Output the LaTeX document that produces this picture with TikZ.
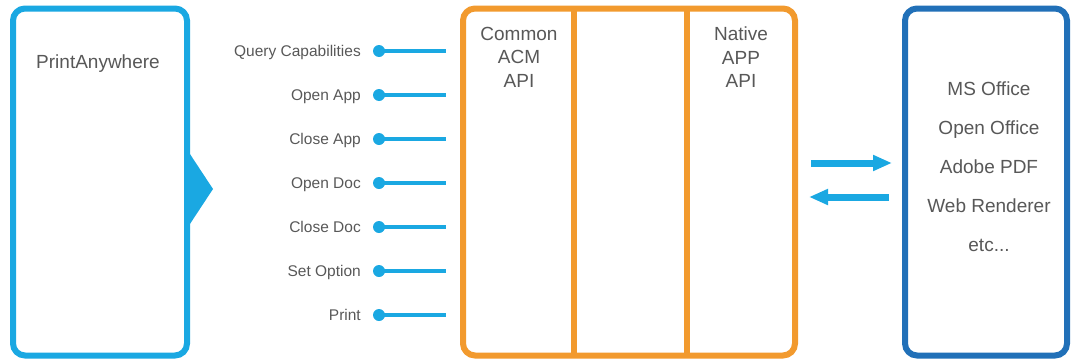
\documentclass[tikz,border=0pt]{standalone}
\usepackage{fontspec}
\setmainfont{Liberation Sans}
\usetikzlibrary{arrows.meta}
\definecolor{cyanb}{HTML}{1AA8E2}
\definecolor{orng}{HTML}{F29A2E}
\definecolor{dblue}{HTML}{2170B8}
\definecolor{txtgray}{HTML}{585858}
\begin{document}
\begin{tikzpicture}[x=1pt,y=-1pt,
  panel/.style={draw, line width=6pt, rounded corners=12pt, inner sep=0pt, fill=white},
  bigtxt/.style={text=txtgray, font=\fontsize{19}{23.5}\selectfont, inner sep=0pt},
  lbl/.style={text=txtgray, font=\fontsize{15.5}{18}\selectfont, inner sep=0pt, anchor=base east},
  dot/.style={circle, fill=cyanb, minimum size=12pt, inner sep=0pt},
  conn/.style={draw=cyanb, line width=4pt},
  flow/.style={draw=cyanb, line width=7pt, -{Triangle[length=19pt,width=15pt]}}
]
\useasboundingbox (0,0) rectangle (1071,362);
% PrintAnywhere panel
\node[panel, draw=cyanb, minimum width=174pt, minimum height=347pt] (pa) at (100,182) {};
\fill[cyanb] (186,148) -- (213,189) -- (186,230) -- cycle;
\node[bigtxt] (patext) at (98,64) {PrintAnywhere};
% API labels
\foreach \t [count=\i] in {Query Capabilities, Open App, Close App, Open Doc, Close Doc, Set Option, Print}{
  \pgfmathsetmacro\yy{7+44*\i}
  \node[lbl] (l\i) at (361,\yy+5.5) {\t};
  \node[dot] (d\i) at (379,\yy) {};
  \coordinate (e\i) at (446,\yy);
  \draw[conn] (d\i.center) -- (e\i);
}
% ACM panel
\node[panel, draw=orng, minimum width=332pt, minimum height=347pt] (acm) at (629,182) {};
\draw[orng, line width=6pt] (574,8) -- (574,355);
\draw[orng, line width=6pt] (687,8) -- (687,355);
\node[bigtxt, align=center, anchor=north] (common) at (519,27) {Common\\ACM\\API};
\node[bigtxt, align=center, anchor=north] (native) at (741,27) {Native\\APP\\API};
% Apps panel
\node[panel, draw=dblue, minimum width=162pt, minimum height=347pt] (apps) at (986,182) {};
\node[bigtxt, align=center, anchor=north, font=\fontsize{19}{39}\selectfont] (applist) at (989,82) {MS Office\\Open Office\\Adobe PDF\\Web Renderer\\etc...};
% arrows
\draw[flow, shorten <=13pt, shorten >=10pt] (acm.east |- 0,163) -- (apps.west |- 0,163);
\draw[flow, shorten <=13pt, shorten >=11pt] (apps.west |- 0,197) -- (acm.east |- 0,197);
\end{tikzpicture}
\end{document}
